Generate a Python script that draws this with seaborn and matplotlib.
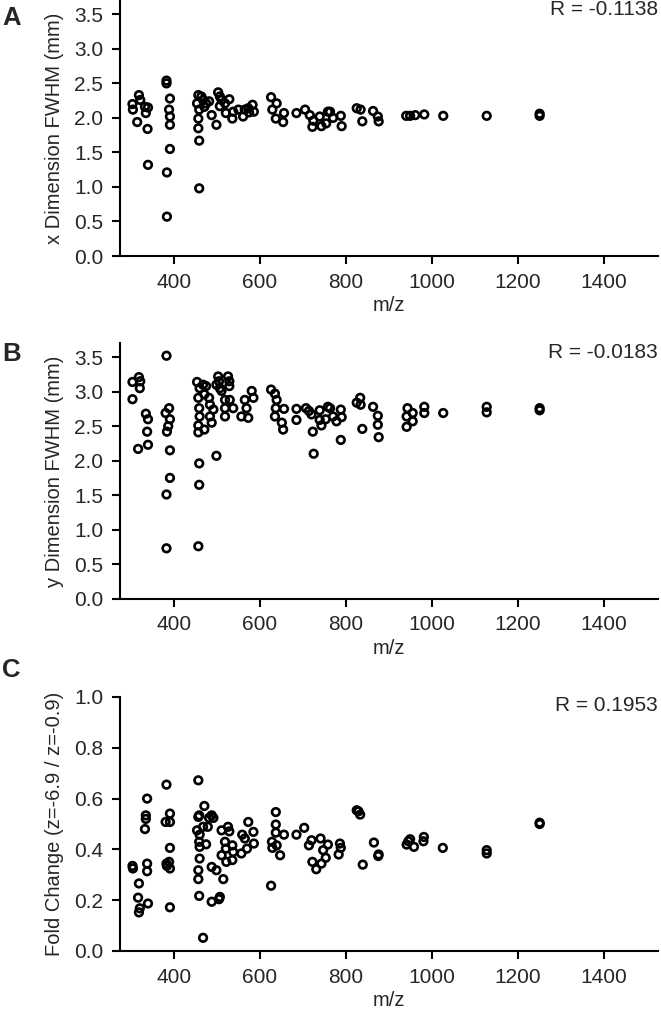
import matplotlib
matplotlib.use("Agg")
import matplotlib.pyplot as plt
import seaborn as sns
import pandas as pd

# Panel A: x dimension FWHM (mm) vs m/z
mz_a = [304, 305, 319, 322, 315, 333, 340, 335, 339, 340,
        383, 383, 391, 389, 391, 391, 391, 384, 384,
        457, 454, 464, 459, 457, 457, 459, 459, 468, 471, 475, 482, 488, 499,
        503, 507, 511, 507, 519, 521, 529, 538, 536, 550, 561, 565, 573, 583,
        586, 575, 626, 639, 629, 637, 654, 656, 685, 705, 716, 722, 724, 739,
        743, 758, 754, 763, 770, 788, 790, 825, 834, 838, 863, 874, 876,
        940, 949, 961, 982, 1026, 1127, 1250, 1250]
fwhm_x = [2.20, 2.12, 2.33, 2.26, 1.94, 2.16, 2.15, 2.07, 1.84, 1.32,
          2.54, 2.50, 2.28, 2.12, 2.02, 1.90, 1.55, 1.21, 0.57,
          2.33, 2.21, 2.31, 2.12, 1.99, 1.85, 1.67, 0.98, 2.26, 2.16, 2.21, 2.24, 2.04, 1.90,
          2.37, 2.31, 2.26, 2.17, 2.21, 2.07, 2.27, 2.09, 1.99, 2.12, 2.02, 2.12, 2.14, 2.19,
          2.09, 2.08, 2.30, 2.21, 2.12, 1.99, 1.94, 2.07, 2.07, 2.12, 2.04, 1.87, 1.96, 2.02,
          1.88, 2.09, 1.92, 2.09, 2.00, 2.03, 1.88, 2.14, 2.12, 1.95, 2.10, 2.02, 1.95,
          2.03, 2.03, 2.04, 2.05, 2.03, 2.03, 2.06, 2.03]

# Panel B: y dimension FWHM (mm) vs m/z
mz_b = [304, 304, 319, 322, 321, 317, 335, 340, 338, 340,
        383, 381, 389, 391, 387, 384, 391, 391, 383, 383,
        454, 460, 457, 459, 460, 457, 457, 459, 459, 457,
        468, 471, 475, 482, 484, 484, 471, 488, 492, 499,
        503, 505, 507, 511, 499, 519, 519, 519, 526, 529, 529, 530, 538,
        557, 565, 569, 573, 581, 585,
        626, 635, 639, 637, 635, 651, 654, 656, 685, 685,
        707, 714, 720, 723, 725, 739, 739, 743, 758, 753,
        763, 770, 778, 788, 790, 788, 825, 833, 834, 838, 863, 874, 874, 876,
        943, 941, 941, 955, 955, 982, 982, 1026, 1127, 1127, 1250, 1250]
fwhm_y = [3.14, 2.89, 3.21, 3.15, 3.05, 2.17, 2.68, 2.60, 2.42, 2.23,
          3.52, 2.69, 2.76, 2.60, 2.50, 2.42, 2.15, 1.75, 1.51, 0.73,
          3.14, 3.05, 2.91, 2.76, 2.64, 2.51, 2.41, 1.96, 1.65, 0.76,
          3.10, 2.96, 3.08, 2.91, 2.81, 2.64, 2.45, 2.55, 2.74, 2.07,
          3.22, 3.15, 3.05, 3.01, 3.10, 2.88, 2.76, 2.64, 3.22, 3.15, 3.08, 2.88, 2.76,
          2.64, 2.88, 2.76, 2.62, 3.01, 2.91,
          3.03, 2.97, 2.88, 2.76, 2.64, 2.55, 2.45, 2.75, 2.75, 2.59,
          2.76, 2.72, 2.67, 2.42, 2.10, 2.73, 2.59, 2.51, 2.78, 2.60,
          2.76, 2.64, 2.57, 2.74, 2.63, 2.30, 2.84, 2.91, 2.81, 2.46, 2.78, 2.65, 2.52, 2.34,
          2.76, 2.64, 2.49, 2.69, 2.57, 2.78, 2.69, 2.69, 2.78, 2.70, 2.76, 2.73]

# Panel C: fold change (z=-6.9 / z=-0.9) vs m/z
mz_c = [304, 305, 319, 317, 319, 321, 338, 335, 335, 333, 338, 338, 340,
        383, 381, 391, 391, 391, 383, 384, 389, 391, 391,
        457, 459, 457, 454, 460, 459, 460, 460, 457, 457, 459, 468,
        471, 468, 475, 479, 482, 488, 492, 488, 488, 499, 505, 507,
        511, 511, 515, 519, 521, 522, 526, 529, 536, 538, 536,
        557, 559, 565, 570, 573, 585, 586,
        626, 628, 629, 637, 637, 637, 639, 647, 656, 685,
        703, 714, 720, 722, 731, 741, 743, 747, 753, 758, 783, 786, 788,
        825, 829, 833, 839, 865, 875, 876,
        941, 945, 949, 958, 980, 981, 1025, 1127, 1127, 1250, 1250]
fold = [0.335, 0.325, 0.266, 0.210, 0.152, 0.168, 0.600, 0.534, 0.520, 0.480, 0.344, 0.314, 0.187,
        0.655, 0.508, 0.541, 0.508, 0.406, 0.344, 0.335, 0.351, 0.325, 0.172,
        0.672, 0.534, 0.528, 0.475, 0.458, 0.430, 0.410, 0.364, 0.318, 0.283, 0.217, 0.052,
        0.571, 0.489, 0.420, 0.489, 0.524, 0.534, 0.524, 0.331, 0.194, 0.318, 0.204, 0.213,
        0.475, 0.377, 0.283, 0.430, 0.403, 0.351, 0.489, 0.471, 0.416, 0.390, 0.358,
        0.384, 0.458, 0.443, 0.403, 0.508, 0.469, 0.423,
        0.257, 0.430, 0.406, 0.547, 0.498, 0.466, 0.416, 0.377, 0.458, 0.458,
        0.485, 0.416, 0.436, 0.351, 0.322, 0.443, 0.344, 0.397, 0.367, 0.419, 0.380, 0.423, 0.406,
        0.554, 0.550, 0.537, 0.340, 0.427, 0.374, 0.380,
        0.419, 0.432, 0.440, 0.410, 0.432, 0.449, 0.406, 0.397, 0.384, 0.505, 0.500]

panels = [
    ("A", mz_a, fwhm_x, "x Dimension FWHM (mm)", "R = -0.1138", (0, 3.7), [0, 0.5, 1.0, 1.5, 2.0, 2.5, 3.0, 3.5]),
    ("B", mz_b, fwhm_y, "y Dimension FWHM (mm)", "R = -0.0183", (0, 3.7), [0, 0.5, 1.0, 1.5, 2.0, 2.5, 3.0, 3.5]),
    ("C", mz_c, fold, "Fold Change (z=-6.9 / z=-0.9)", "R = 0.1953", (0, 1.0), [0, 0.2, 0.4, 0.6, 0.8, 1.0]),
]
xticks = [400, 600, 800, 1000, 1200, 1400]

sns.set_style("ticks")
plt.rcParams['font.family'] = ['Liberation Sans', 'DejaVu Sans']

fig = plt.figure(figsize=(6.61, 10.17), dpi=100)
W, H = 661, 1017
# axes boxes in pixels: (left, top, right, bottom)
boxes = [(120, 0.5, 658, 256), (120, 343.3, 658, 598.7), (120, 697, 658, 951)]
letter_y = [18, 354, 670]

for (letter, mz, vals, ylab, rtxt, ylim, yticks), box, ly in zip(panels, boxes, letter_y):
    l, t, r, b = box
    ax = fig.add_axes([l / W, 1 - b / H, (r - l) / W, (b - t) / H])
    df = pd.DataFrame({"mz": mz, "val": vals})
    sns.scatterplot(data=df, x="mz", y="val", ax=ax, marker="o", s=30,
                    facecolor="none", edgecolor="black", linewidth=1.9)
    ax.set_xlim(275, 1525)
    ax.set_ylim(*ylim)
    ax.set_xticks(xticks)
    ax.set_yticks(yticks)
    ax.set_yticklabels([f"{v:.1f}" for v in yticks])
    ax.set_xlabel("m/z", fontsize=14.5, labelpad=3)
    ax.set_ylabel(ylab, fontsize=14.5, labelpad=7)
    ax.tick_params(labelsize=15, width=1.5, length=6, pad=6, color="black")
    sns.despine(ax=ax)
    for sp in ("left", "bottom"):
        ax.spines[sp].set_linewidth(1.5)
        ax.spines[sp].set_color("black")
    ax.text(1.0, 0.965, rtxt, transform=ax.transAxes, ha="right", va="center", fontsize=15)
    fig.text(2 / W, 1 - ly / H, letter, fontsize=18.5, fontweight="bold", ha="left", va="center")

fig.savefig("out.png", dpi=100)
